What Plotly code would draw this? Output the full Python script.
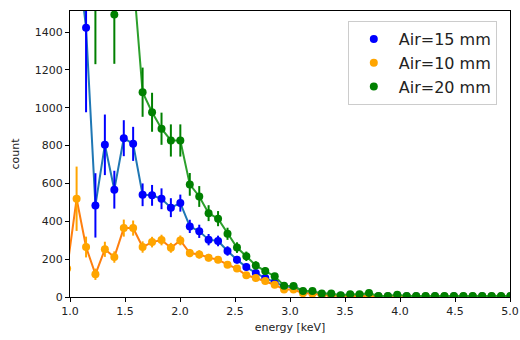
import plotly.graph_objects as go

energy = [0.974, 1.060, 1.146, 1.231, 1.317, 1.403, 1.489, 1.574, 1.660, 1.746,
          1.832, 1.917, 2.003, 2.089, 2.175, 2.260, 2.346, 2.432, 2.518, 2.603,
          2.689, 2.775, 2.861, 2.946, 3.032, 3.118, 3.204, 3.289, 3.375, 3.461,
          3.547, 3.632, 3.718, 3.804, 3.890, 3.975, 4.061, 4.147, 4.233, 4.318,
          4.404, 4.490, 4.576, 4.661, 4.747, 4.833, 4.919, 5.004]

air15 = [1700, 1850, 1422, 484, 804, 567, 839, 809, 540, 537,
         519, 472, 496, 373, 347, 303, 296, 243, 197, 158,
         127, 100, 79, 56, 53, 28, 25, 14, 12, 6,
         8, 8, 10, 4, 4, 6, 4, 4, 3, 4,
         3, 4, 3, 3, 4, 3, 3, 3]
air15_err = [300, 300, 446, 170, 160, 100, 95, 90, 60, 55,
             55, 50, 45, 35, 35, 30, 28, 25, 20, 18,
             15, 12, 10, 8, 8, 6, 6, 4, 4, 3,
             3, 3, 3, 2, 2, 3, 2, 2, 2, 2,
             2, 2, 2, 2, 2, 2, 2, 2]

air10 = [150, 519, 264, 120, 252, 211, 364, 364, 264, 290,
         301, 260, 299, 232, 225, 208, 197, 171, 150, 115,
         100, 84, 65, 39, 39, 20, 18, 9, 8, 4,
         5, 4, 5, 3, 3, 3, 3, 2, 3, 2,
         2, 3, 2, 2, 2, 2, 2, 2]
air10_err = [60, 170, 55, 30, 40, 30, 45, 40, 30, 28,
             28, 26, 26, 22, 22, 20, 18, 16, 14, 12,
             10, 9, 8, 6, 6, 4, 4, 3, 3, 2,
             2, 2, 2, 2, 2, 2, 2, 1, 2, 1,
             1, 2, 1, 1, 1, 1, 1, 1]

air20 = [2300, 2200, 2000, 1560, 1900, 1492, 1850, 1700, 1082, 976,
         889, 827, 827, 595, 531, 443, 414, 334, 261, 215,
         167, 137, 109, 60, 58, 32, 32, 18, 18, 9,
         14, 14, 21, 5, 5, 12, 5, 5, 5, 5,
         5, 5, 5, 5, 5, 5, 5, 5]
air20_err = [400, 400, 400, 330, 300, 260, 300, 170, 130, 103,
             85, 85, 85, 60, 55, 42, 40, 32, 28, 25,
             22, 20, 16, 12, 12, 8, 8, 6, 6, 4,
             4, 4, 5, 3, 3, 4, 3, 3, 3, 3,
             3, 3, 3, 3, 3, 3, 3, 3]

series = [
    ("Air=15 mm", air15, air15_err, "#1f77b4", "blue"),
    ("Air=10 mm", air10, air10_err, "#ff7f0e", "orange"),
    ("Air=20 mm", air20, air20_err, "#2ca02c", "green"),
]

fig = go.Figure()
for name, vals, errs, lc, mc in series:
    fig.add_trace(go.Scatter(x=energy, y=vals, mode="lines",
                             line=dict(color=lc, width=2), showlegend=False,
                             hoverinfo="skip"))
    fig.add_trace(go.Scatter(x=energy, y=vals, mode="markers", name=name,
                             marker=dict(color=mc, size=8),
                             error_y=dict(type="data", array=errs, visible=True,
                                          color=mc, thickness=2, width=0)))

axis_common = dict(showline=True, linecolor="black", linewidth=1, mirror=True,
                   ticks="outside", ticklen=4, tickcolor="black", tickwidth=1,
                   showgrid=False, zeroline=False, automargin=False,
                   tickfont=dict(size=11, color="#222"))

fig.update_layout(
    width=520, height=340,
    margin=dict(l=70, r=10, t=11, b=43),
    paper_bgcolor="white", plot_bgcolor="white",
    font=dict(family="DejaVu Sans", size=11, color="#222"),
    xaxis=dict(range=[1, 5], dtick=0.5, tick0=1, tickformat=".1f",
               title=dict(text="energy [keV]", font=dict(size=11), standoff=6),
               **axis_common),
    yaxis=dict(range=[0, 1511], dtick=200, tick0=0,
               title=dict(text="count", font=dict(size=11), standoff=12),
               **axis_common),
    legend=dict(x=0.97, y=0.965, xanchor="right", yanchor="top",
                bgcolor="rgba(255,255,255,0.8)", bordercolor="#cccccc",
                borderwidth=1, itemwidth=40, font=dict(size=16, color="#222")),
)

fig.write_html("out.html")
